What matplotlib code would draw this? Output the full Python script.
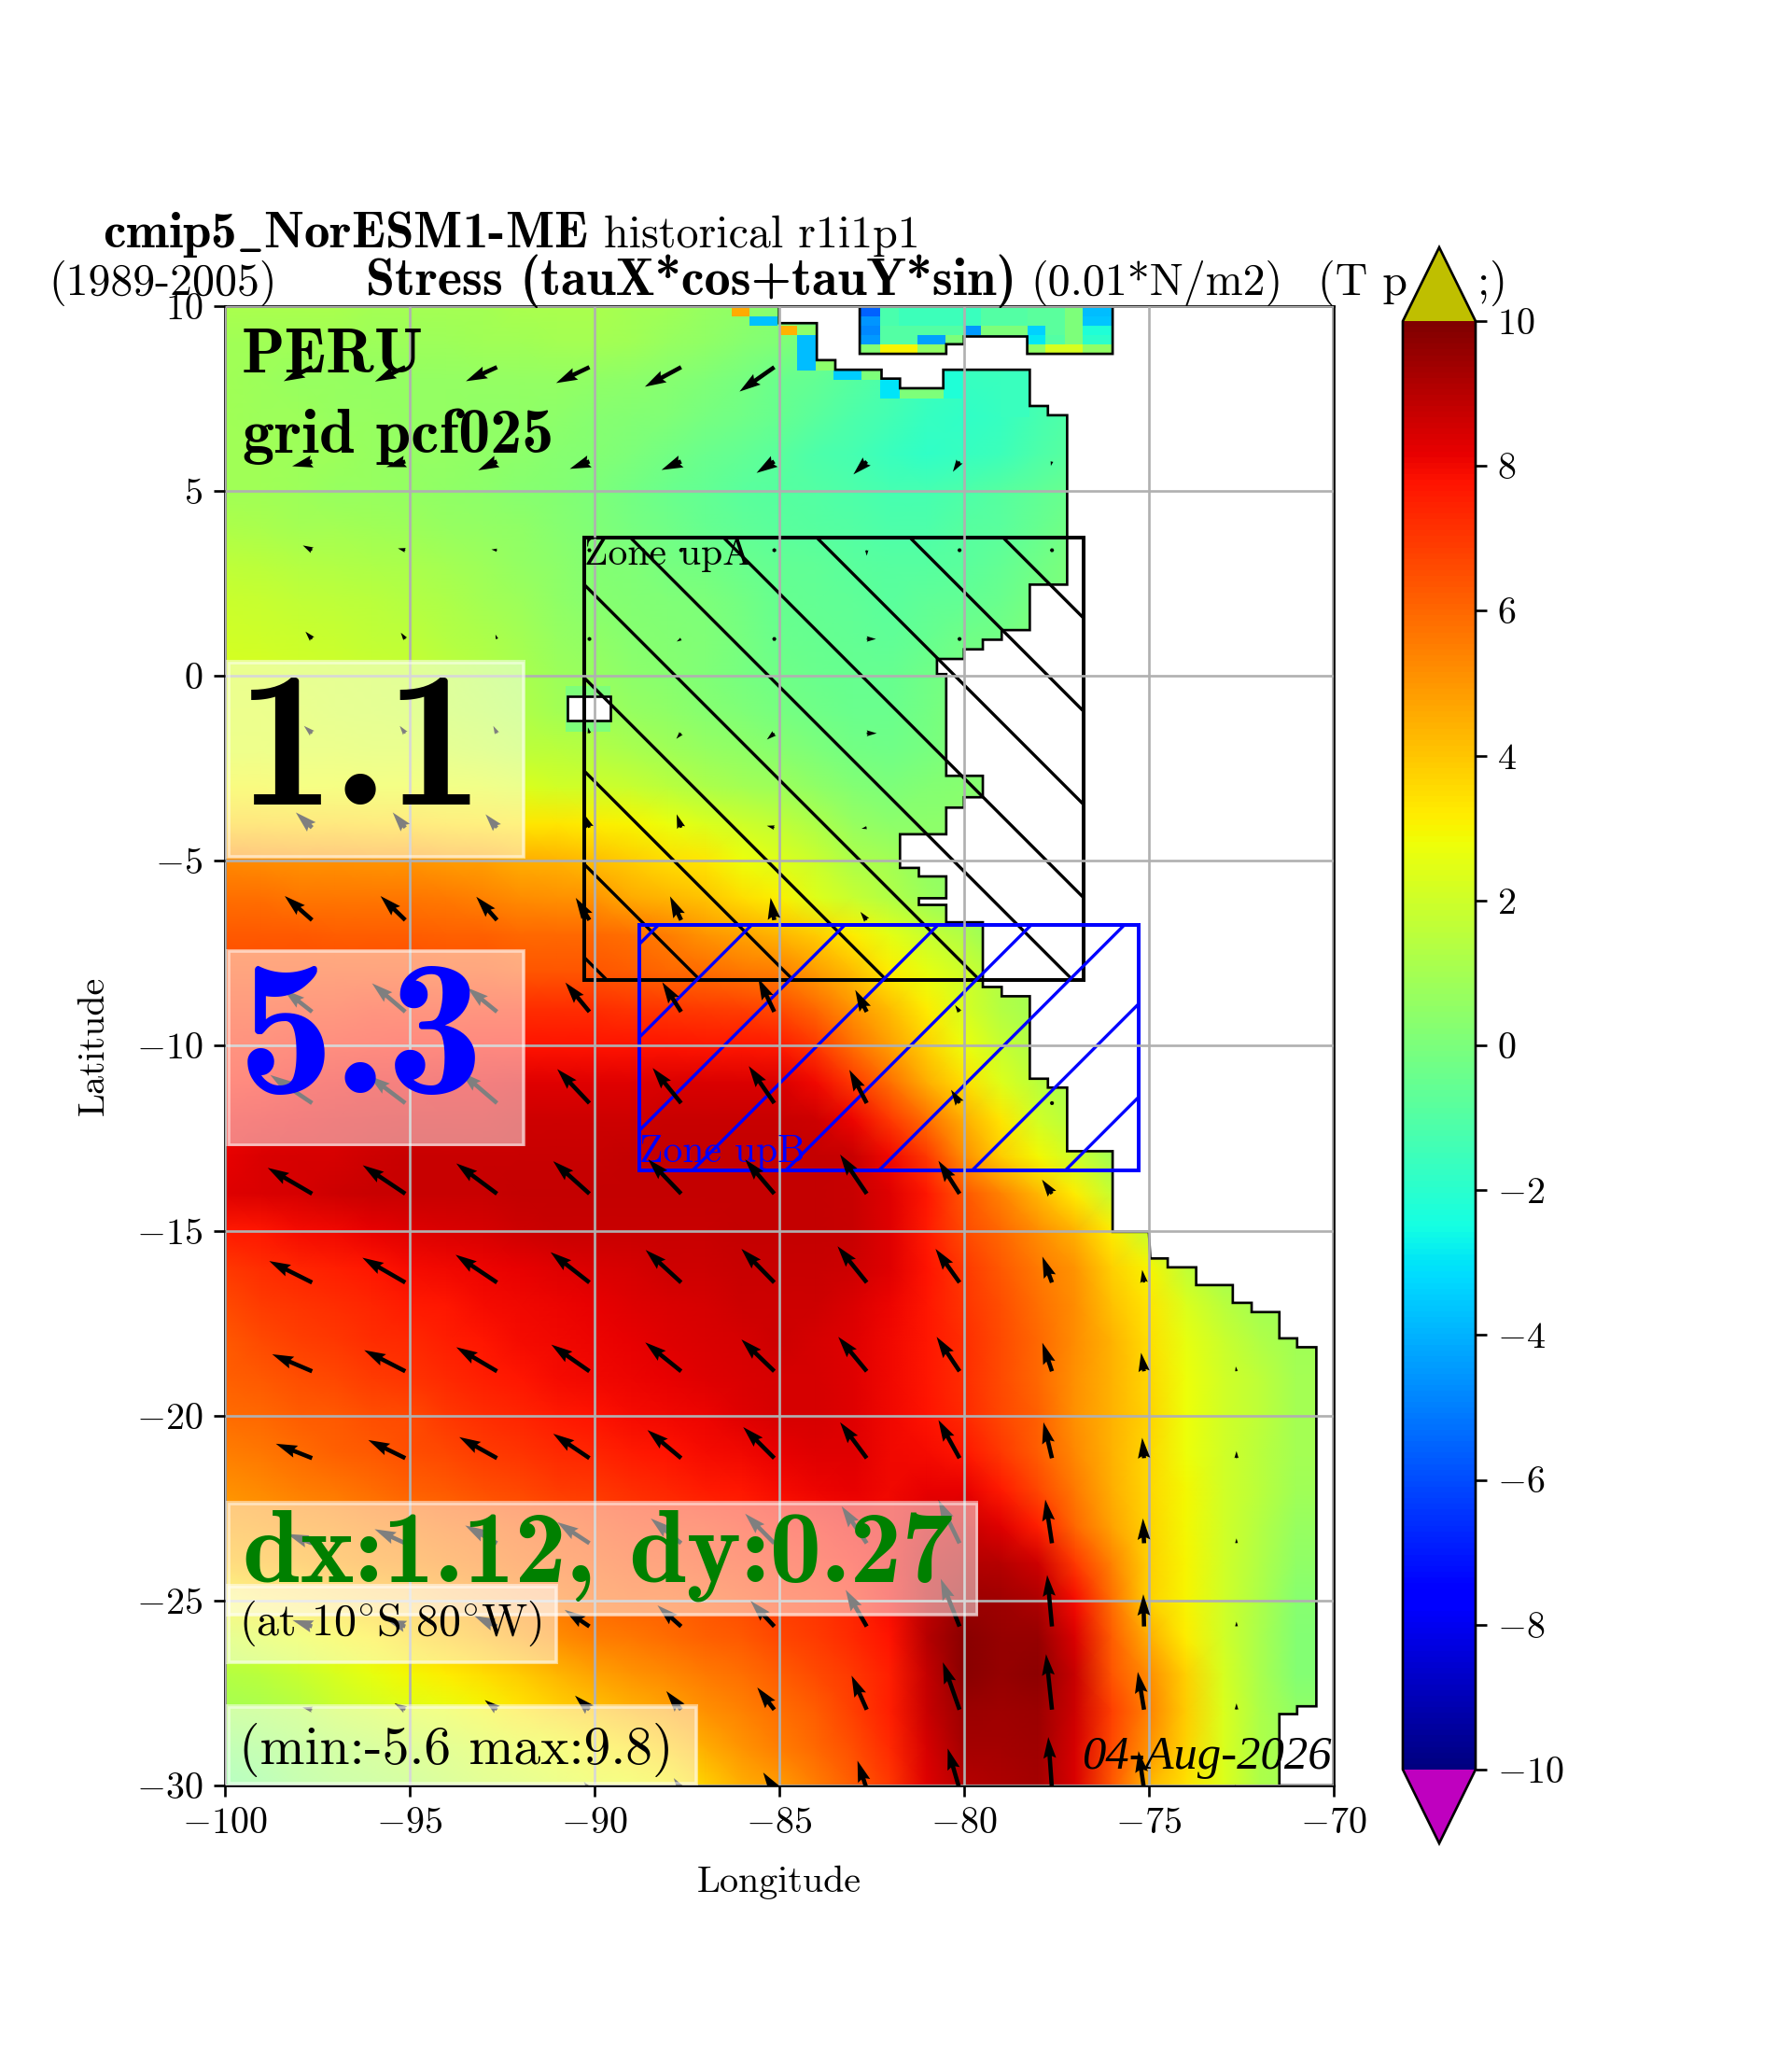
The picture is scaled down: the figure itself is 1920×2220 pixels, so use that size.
import numpy as np
import matplotlib
matplotlib.use("Agg")
import matplotlib.pyplot as plt
from matplotlib.patches import Rectangle
from matplotlib.cm import ScalarMappable
from matplotlib.colors import Normalize

plt.rcParams['font.family'] = ['cmr10']
plt.rcParams['font.size'] = 12
plt.rcParams['mathtext.fontset'] = 'cm'
plt.rcParams['axes.formatter.use_mathtext'] = True
plt.rcParams['axes.unicode_minus'] = True

nan = np.nan

# field, nodes every degree
lons = list(range(-100, -69))
lats = list(range(10, -31, -1))
field = [
    [1.1,1.1,1.1,1.1,1.0,1.0,1.0,1.0,1.1,1.1,1.1,1.0,0.9,0.7,0.5,0.3,0.0,-0.4,-0.8,-1.1,-1.3,-1.2,-1.0,-0.8,-0.5,-0.5,-0.5,-0.5,-0.5,-0.5,-0.5],
    [0.9,0.9,0.9,0.9,0.8,0.8,0.8,0.9,0.9,1.0,1.0,0.9,0.7,0.5,0.3,0.1,-0.2,-0.6,-1.0,-1.3,-1.5,-1.4,-1.2,-1.0,-0.7,-0.7,-0.7,-0.7,-0.7,-0.7,-0.7],
    [0.9,0.8,0.7,0.7,0.6,0.6,0.6,0.6,0.6,0.6,0.5,0.4,0.3,0.1,-0.1,-0.4,-0.6,-0.9,-1.2,-1.5,-1.7,-1.6,-1.4,-1.1,-0.8,-0.6,-0.6,-0.6,-0.6,-0.6,-0.6],
    [0.9,0.8,0.8,0.7,0.7,0.6,0.6,0.5,0.5,0.4,0.3,0.2,0.1,-0.1,-0.3,-0.5,-0.8,-1.1,-1.4,-1.7,-1.8,-1.7,-1.3,-1.0,-0.6,-0.3,-0.3,-0.3,-0.3,-0.3,-0.3],
    [0.9,0.9,0.8,0.8,0.7,0.6,0.6,0.5,0.4,0.3,0.2,0.0,-0.2,-0.4,-0.6,-0.8,-1.1,-1.3,-1.6,-1.8,-1.7,-1.5,-1.1,-0.8,-0.4,0.0,0.0,0.0,0.0,0.0,0.0],
    [0.9,0.9,0.8,0.7,0.7,0.6,0.5,0.4,0.3,0.2,0.0,-0.2,-0.4,-0.6,-0.8,-0.9,-1.0,-1.1,-1.3,-1.3,-1.1,-0.9,-0.7,-0.4,0.0,0.3,0.3,0.3,0.3,0.3,0.3],
    [1.2,1.1,1.0,1.0,0.9,0.8,0.7,0.6,0.5,0.3,0.1,-0.1,-0.3,-0.5,-0.7,-0.8,-0.9,-1.0,-1.1,-1.1,-0.9,-0.8,-0.5,-0.2,0.2,0.3,0.3,0.3,0.3,0.3,0.3],
    [1.6,1.5,1.4,1.3,1.2,1.1,1.0,0.8,0.6,0.4,0.2,0.1,-0.1,-0.2,-0.4,-0.6,-0.7,-0.8,-0.9,-0.9,-0.8,-0.6,-0.3,0.0,0.2,0.3,0.3,0.3,0.3,0.3,0.3],
    [1.9,1.8,1.7,1.6,1.5,1.4,1.2,1.0,0.8,0.5,0.3,0.2,0.1,0.0,-0.2,-0.5,-0.6,-0.7,-0.8,-0.7,-0.6,-0.4,-0.1,0.1,0.2,0.2,0.2,0.2,0.2,0.2,0.2],
    [2.1,2.0,1.9,1.8,1.7,1.6,1.4,1.2,1.0,0.7,0.5,0.3,0.2,0.1,-0.1,-0.4,-0.5,-0.6,-0.7,-0.5,-0.3,-0.2,0.1,0.1,0.1,0.1,0.1,0.1,0.1,0.1,0.1],
    [2.2,2.2,2.1,2.0,1.9,1.8,1.6,1.4,1.1,0.8,0.7,0.4,0.3,0.1,-0.1,-0.3,-0.4,-0.5,-0.5,-0.3,-0.1,0.1,0.1,0.1,0.1,0.1,0.1,0.1,0.1,0.1,0.1],
    [2.3,2.3,2.2,2.1,2.0,1.9,1.7,1.5,1.3,1.0,0.9,0.7,0.5,0.3,0.1,-0.1,-0.3,-0.4,-0.4,-0.2,0.1,0.2,0.2,0.2,0.2,0.2,0.2,0.2,0.2,0.2,0.2],
    [2.4,2.4,2.3,2.3,2.2,2.2,2.0,1.8,1.6,1.5,1.4,1.1,0.9,0.7,0.5,0.3,0.0,-0.2,-0.3,-0.1,0.2,0.2,0.2,0.2,0.2,0.2,0.2,0.2,0.2,0.2,0.2],
    [2.9,2.9,2.8,2.8,2.7,2.7,2.6,2.5,2.3,2.1,2.0,1.8,1.5,1.2,1.0,0.8,0.5,0.2,0.0,0.2,0.3,0.3,0.3,0.3,0.3,0.3,0.3,0.3,0.3,0.3,0.3],
    [3.8,3.8,3.7,3.7,3.6,3.6,3.5,3.4,3.3,3.3,3.2,3.0,2.7,2.3,2.0,1.7,1.2,0.7,0.4,0.4,0.4,0.4,0.4,0.4,0.4,0.4,0.4,0.4,0.4,0.4,0.4],
    [5.3,5.2,5.1,5.1,5.0,5.0,4.9,4.8,4.5,4.4,4.2,3.9,3.5,3.3,2.8,2.4,1.9,1.2,1.0,0.5,0.4,0.4,0.4,0.4,0.4,0.4,0.4,0.4,0.4,0.4,0.4],
    [5.8,5.8,5.7,5.7,5.7,5.7,5.6,5.4,5.2,5.1,5.0,4.6,4.3,4.0,3.5,3.1,2.4,1.8,1.3,0.8,0.4,0.4,0.4,0.4,0.4,0.4,0.4,0.4,0.4,0.4,0.4],
    [6.3,6.3,6.3,6.2,6.2,6.2,6.1,6.1,6.0,6.0,6.0,5.8,5.5,5.0,4.7,4.3,3.9,3.2,2.5,1.8,1.3,0.6,0.4,0.4,0.4,0.4,0.4,0.4,0.4,0.4,0.4],
    [6.6,6.6,6.6,6.6,6.6,6.6,6.5,6.5,6.4,6.4,6.4,6.2,6.0,5.9,5.7,5.5,4.9,4.2,3.2,2.6,2.0,1.3,0.8,0.5,0.5,0.5,0.5,0.5,0.5,0.5,0.5],
    [7.0,7.0,7.1,7.1,7.2,7.2,7.2,7.2,7.2,7.2,7.2,7.1,7.0,6.9,6.8,6.6,6.0,5.0,4.2,3.2,2.2,1.4,1.0,0.7,0.6,0.6,0.6,0.6,0.6,0.6,0.6],
    [7.3,7.4,7.5,7.5,7.6,7.7,7.7,7.8,7.8,7.8,7.8,7.8,7.8,7.7,7.7,7.6,7.0,5.8,4.8,3.8,2.8,1.8,1.2,0.8,0.6,0.6,0.6,0.6,0.6,0.6,0.6],
    [7.6,7.8,7.9,8.0,8.1,8.1,8.2,8.2,8.3,8.3,8.3,8.3,8.4,8.4,8.4,8.4,8.0,7.0,5.8,4.5,3.5,2.4,1.5,1.0,0.7,0.6,0.6,0.6,0.6,0.6,0.6],
    [8.0,8.1,8.2,8.3,8.4,8.5,8.5,8.5,8.6,8.6,8.6,8.6,8.7,8.7,8.7,8.7,8.6,8.1,7.0,5.8,4.5,3.3,2.1,1.4,0.8,0.6,0.6,0.6,0.6,0.6,0.6],
    [8.2,8.4,8.5,8.5,8.6,8.7,8.7,8.7,8.7,8.7,8.7,8.8,8.8,8.8,8.8,8.8,8.8,8.7,8.0,7.0,5.2,3.9,2.9,2.0,1.0,0.4,0.4,0.4,0.4,0.4,0.4],
    [8.3,8.4,8.5,8.6,8.7,8.7,8.7,8.7,8.8,8.8,8.8,8.8,8.8,8.8,8.8,8.8,8.8,8.7,8.3,7.7,6.4,5.4,4.3,3.2,1.8,1.0,0.8,0.8,0.8,0.8,0.8],
    [7.6,7.7,7.9,8.0,8.2,8.3,8.4,8.5,8.6,8.7,8.7,8.7,8.7,8.7,8.8,8.8,8.8,8.7,8.3,7.6,6.6,6.0,5.2,4.4,3.2,1.8,0.8,0.8,0.8,0.8,0.8],
    [7.0,7.2,7.4,7.5,7.7,7.9,8.0,8.1,8.2,8.3,8.4,8.5,8.6,8.6,8.7,8.7,8.7,8.6,8.3,7.8,7.0,6.3,5.6,5.0,3.8,3.0,1.7,1.0,1.0,1.0,1.0],
    [6.6,6.9,7.1,7.2,7.4,7.6,7.7,7.9,8.0,8.1,8.2,8.3,8.4,8.5,8.6,8.6,8.6,8.4,8.1,7.7,7.1,6.5,5.8,5.2,4.1,3.3,2.3,1.5,1.0,0.8,0.8],
    [6.3,6.6,6.8,7.0,7.2,7.3,7.5,7.7,7.9,8.0,8.1,8.2,8.3,8.4,8.5,8.6,8.5,8.3,8.0,7.7,7.2,6.6,6.0,5.2,4.4,3.5,2.6,1.9,1.3,0.9,0.9],
    [6.1,6.3,6.5,6.7,6.9,7.1,7.3,7.5,7.7,7.9,8.0,8.1,8.2,8.3,8.4,8.5,8.5,8.3,8.0,7.7,7.2,6.6,6.0,5.1,4.4,3.6,2.8,2.1,1.6,1.0,1.0],
    [5.9,6.0,6.2,6.3,6.5,6.6,7.0,7.2,7.4,7.6,7.8,7.9,8.0,8.1,8.3,8.5,8.5,8.3,8.0,7.8,7.3,6.7,6.1,5.1,4.4,3.7,2.8,2.1,1.6,1.0,1.0],
    [5.5,5.7,5.9,6.1,6.3,6.5,6.7,6.9,7.1,7.3,7.4,7.6,7.8,7.9,8.0,8.2,8.3,8.3,8.0,7.9,7.7,7.0,6.2,5.3,4.4,3.6,2.8,2.1,1.5,1.0,1.0],
    [5.1,5.3,5.5,5.7,5.9,6.1,6.3,6.5,6.7,6.9,7.0,7.2,7.4,7.6,7.7,7.9,8.1,8.2,8.0,8.2,8.2,7.6,6.7,5.6,4.5,3.6,2.9,2.1,1.5,0.9,0.9],
    [4.7,4.9,5.0,5.2,5.4,5.6,5.8,6.0,6.2,6.4,6.6,6.8,7.0,7.1,7.3,7.5,7.7,7.9,8.0,8.5,8.7,8.3,7.5,6.0,4.7,3.7,2.9,2.1,1.4,0.7,0.7],
    [4.2,4.4,4.6,4.8,5.0,5.2,5.4,5.7,5.9,6.1,6.3,6.5,6.6,6.8,7.0,7.2,7.4,7.7,8.0,8.8,9.1,9.0,8.6,7.0,5.4,3.8,3.0,2.1,1.3,0.5,0.5],
    [3.0,3.4,3.6,3.9,4.2,4.4,4.8,5.1,5.4,5.7,6.0,6.1,6.2,6.4,6.6,6.9,7.1,7.4,7.9,8.9,9.5,9.4,9.2,7.9,5.8,3.8,3.0,2.1,1.2,0.3,0.3],
    [2.0,2.3,2.6,2.9,3.2,3.6,4.0,4.4,4.8,5.2,5.5,5.7,5.9,6.1,6.3,6.7,6.9,7.3,7.8,9.0,9.8,9.6,9.6,8.4,6.2,4.5,3.2,2.1,1.1,0.2,0.2],
    [1.4,1.5,1.8,2.2,2.6,2.9,3.2,3.5,3.9,4.3,4.7,5.0,5.3,5.6,5.8,6.2,6.6,7.0,7.5,8.8,9.8,9.6,9.7,8.7,6.4,5.2,3.8,2.2,1.1,0.2,0.2],
    [1.0,1.1,1.4,1.8,2.1,2.4,2.6,2.9,3.3,3.7,4.0,4.4,4.7,5.1,5.4,5.8,6.2,6.8,7.5,8.7,9.5,9.4,9.5,8.6,6.8,5.4,3.9,2.3,1.2,0.5,0.5],
    [0.3,0.5,0.8,1.1,1.4,1.7,1.9,2.2,2.5,2.8,3.1,3.4,3.9,4.5,5.0,5.5,6.0,6.5,7.3,8.5,9.3,9.3,9.4,8.5,6.6,5.0,3.7,2.3,1.2,0.9,0.9],
    [-0.3,0.0,0.5,0.8,1.0,1.2,1.5,1.8,2.0,2.3,2.6,2.8,3.0,3.8,4.5,4.9,5.5,6.2,7.0,8.3,9.0,9.2,9.3,8.4,6.3,4.3,3.4,2.4,1.2,0.9,0.9],
]

# small Caribbean strip at the top, real cell edges
car_lon = [-82.82,-82.28,-81.77,-81.27,-80.51,-80.0,-79.53,-79.02,-78.29,-77.79,-77.28,-76.78,-75.98]
car_lat = [10.0,9.72,9.46,9.23,8.97,8.71]
car_val = [
    [-5.6,-1.2,-1.5,-1.5,-1.5,-1.6,-1.0,-1.0,-0.8,-0.8,0.0,-3.8],
    [-4.6,-1.2,-1.5,-1.5,-1.5,-1.6,-1.0,-1.0,-0.8,-0.8,0.0,-3.6],
    [-4.8,-1.0,-1.0,-1.0,-1.0,-4.5,0.0,0.0,-3.4,-0.8,0.0,-2.2],
    [-4.5,-1.0,-1.0,-4.3,0.0,nan,nan,nan,-2.9,-1.0,0.0,-1.9],
    [0.2,3.0,3.0,0.5,nan,nan,nan,nan,0.5,2.2,2.2,0.5],
]

# odd coastal cells on the Pacific side
cell_lon = [-86.28,-85.79,-85.0,-84.52,-84.52,-84.0,-83.54,-82.78,-82.27,-81.74,-80.56,-79.02,-90.77]
cell_wid = [0.49,0.74,0.48,0.5,0.5,0.5,0.76,0.55,0.52,1.18,0.52,0.78,1.22]
cell_lat = [9.72,9.48,9.23,9.23,8.25,8.25,8.0,8.0,7.5,7.5,7.5,7.0,-1.5]
cell_hei = [0.28,0.24,0.25,0.25,0.98,0.29,0.25,0.25,0.5,0.28,0.78,1.28,1.22]
cell_val = [4.6,-3.7,4.4,0.4,-3.8,0.4,-3.5,0.0,-3.0,0.0,-2.2,-1.6,0.0]

# coast outline
coast_lon = [-85,-85,-83.98,-83.98,-83.48,-83.48,-82.23,-82.23,-81.73,-81.73,-80.56,-80.56,-78.22,-78.22,-77.73,-77.73,-77.21,
             -77.21,-78.22,-78.22,-78.98,-78.98,-79.49,-79.49,-80,-80,-80.73,-80.73,-80.48,-80.48,-79.49,-79.49,-80,-80,-80.48,-80.48,
             -81.73,-81.73,-81.22,-81.22,-80.48,-80.48,-81.22,-81.22,-80.48,-80.48,-79.49,-79.49,-78.98,-78.98,-78.22,-78.22,-77.73,
             -77.73,-77.21,-77.21,-75.98,-75.98,-75,-74.96,-74.49,-74.49,-73.72,-73.72,-72.73,-72.73,-72.22,-72.22,-71.47,-71.47,
             -70.99,-70.99,-70.47,-70.47,-70.99,-70.99,-71.47,-71.47,-70,-70,-75.98,-75.98,-78.29,-78.29,-80,-80,-80.48,-80.48,-82.82,-82.82]
coast_lat = [10,9.54,9.54,8.54,8.54,8.28,8.28,8.04,8.04,7.78,7.78,8.28,8.28,7.3,7.3,7.05,7.05,
             2.47,2.47,1.24,1.24,0.98,0.98,0.72,0.72,0.46,0.46,0.05,0.05,-2.7,-2.7,-3.28,-3.28,-3.56,-3.56,-4.28,
             -4.28,-5.19,-5.19,-5.42,-5.42,-6.01,-6.01,-6.19,-6.19,-6.66,-6.66,-8.41,-8.41,-8.66,-8.66,-10.89,-10.89,
             -11.13,-11.13,-12.85,-12.85,-15.03,-15.03,-15.75,-15.75,-15.99,-15.99,-16.47,-16.47,-16.95,-16.95,-17.2,-17.2,-17.91,
             -17.91,-18.15,-18.15,-27.86,-27.86,-28.07,-28.07,-30,-30,10,10,8.71,8.71,9.18,9.18,8.97,8.97,8.71,8.71,10]

# wind stress arrows, tail positions and vectors
arrow_lon = [-97.63,-95.11,-92.63,-90.13,-87.65,-85.13,-82.63,-80.12,-77.62,-75.13,-72.63]
arrow_lat = [8.35,5.8,3.4,1.0,-1.55,-4.1,-6.6,-9.08,-11.55,-14.0,-16.4,-18.8,-21.15,-23.45,-25.7,-27.95,-30.1]
arrow_u = [
    [-0.77,-0.82,-0.84,-0.9,-0.98,-0.94,nan,nan,nan,nan,nan],
    [-0.54,-0.51,-0.51,-0.53,-0.53,-0.48,-0.36,-0.18,-0.03,nan,nan],
    [-0.25,-0.2,-0.15,0.0,-0.02,0.0,0.0,0.0,0.0,nan,nan],
    [-0.18,-0.12,-0.04,-0.02,-0.12,-0.05,0.25,0.0,nan,nan,nan],
    [-0.22,-0.15,-0.1,-0.04,-0.13,-0.2,0.27,nan,nan,nan,nan],
    [-0.44,-0.34,-0.31,-0.14,-0.12,-0.2,-0.14,nan,nan,nan,nan],
    [-0.74,-0.67,-0.56,-0.37,-0.3,-0.1,-0.17,nan,nan,nan,nan],
    [-0.77,-0.9,-0.8,-0.65,-0.51,-0.43,-0.31,-0.12,nan,nan,nan],
    [-1.13,-0.98,-0.98,-0.87,-0.77,-0.69,-0.47,-0.23,0.0,nan,nan],
    [-1.2,-1.15,-1.1,-0.98,-0.89,-0.79,-0.72,-0.57,-0.27,nan,nan],
    [-1.16,-1.16,-1.12,-1.05,-0.96,-0.89,-0.79,-0.65,-0.26,-0.05,nan],
    [-1.08,-1.11,-1.1,-1.03,-0.97,-0.89,-0.77,-0.62,-0.26,-0.08,-0.02],
    [-0.98,-1.0,-1.02,-0.98,-0.91,-0.84,-0.72,-0.57,-0.23,-0.05,0.0],
    [-0.67,-0.83,-0.86,-0.87,-0.82,-0.79,-0.68,-0.57,-0.18,-0.03,0.0],
    [-0.53,-0.5,-0.62,-0.67,-0.64,-0.64,-0.57,-0.51,-0.13,-0.02,0.0],
    [-0.26,-0.29,-0.33,-0.39,-0.4,-0.46,-0.41,-0.45,-0.16,-0.17,0.0],
    [-0.05,-0.1,-0.08,-0.15,-0.2,-0.3,-0.25,-0.32,-0.1,-0.15,-0.03],
]
arrow_v = [
    [-0.38,-0.39,-0.38,-0.43,-0.53,-0.66,nan,nan,nan,nan,nan],
    [-0.13,-0.15,-0.24,-0.2,-0.23,-0.31,-0.35,-0.28,-0.12,nan,nan],
    [0.13,0.05,0.02,0.0,-0.02,-0.1,-0.15,0.0,0.0,nan,nan],
    [0.2,0.17,0.12,0.1,-0.07,-0.08,0.0,0.0,nan,nan,nan],
    [0.2,0.2,0.2,0.16,-0.15,-0.17,0.0,nan,nan,nan,nan],
    [0.41,0.41,0.36,0.36,0.36,0.05,-0.03,nan,nan,nan,nan],
    [0.65,0.65,0.63,0.6,0.64,0.6,0.22,nan,nan,nan,nan],
    [0.6,0.77,0.65,0.79,0.8,0.9,0.59,0.18,nan,nan,nan],
    [0.76,0.74,0.84,0.92,0.95,1.0,0.9,0.36,0.0,nan,nan],
    [0.7,0.77,0.82,0.88,0.93,0.93,1.06,0.89,0.38,nan,nan],
    [0.58,0.67,0.75,0.82,0.88,0.91,0.98,0.91,0.7,0.34,nan],
    [0.46,0.57,0.65,0.72,0.78,0.86,0.93,0.93,0.77,0.5,0.13],
    [0.39,0.49,0.57,0.66,0.76,0.84,0.97,1.03,0.97,0.55,0.19],
    [0.25,0.38,0.48,0.57,0.67,0.8,1.0,1.17,1.18,0.67,0.13],
    [0.17,0.17,0.29,0.45,0.57,0.69,0.99,1.29,1.39,0.87,0.13],
    [0.06,0.17,0.26,0.38,0.5,0.6,0.92,1.28,1.5,1.02,0.17],
    [0.05,0.1,0.1,0.2,0.3,0.45,0.77,1.1,1.41,1.03,0.12],
]

vmin, vmax = -10, 10
cb_ticks = list(range(-10, 11, 2))
x_ticks = [-100, -95, -90, -85, -80, -75, -70]
y_ticks = [-30, -25, -20, -15, -10, -5, 0, 5, 10]

cmap = plt.get_cmap('jet').copy()
cmap.set_over('y')
cmap.set_under('m')
norm = Normalize(vmin, vmax)

fig = plt.figure(figsize=(8, 9.25), dpi=240)
ax = fig.add_axes([240.5/1920, 1-1913/2220, 1188.5/1920, 1585/2220])

X, Y = np.meshgrid(lons, lats)
ax.pcolormesh(X, Y, np.array(field), cmap=cmap, norm=norm, shading='gouraud', zorder=1)
ax.pcolormesh(car_lon, car_lat, np.ma.masked_invalid(car_val), cmap=cmap, norm=norm, shading='flat', zorder=1.1)
ax.bar(cell_lon, cell_hei, cell_wid, cell_lat, align='edge', color=cmap(norm(cell_val)), zorder=1.1)

# land on top of the field
ax.fill(coast_lon, coast_lat, facecolor='white', edgecolor='k', linewidth=0.8, zorder=1.3)
ax.add_patch(Rectangle((-90.73, -1.2), 1.18, 0.66, facecolor='white', edgecolor='k', linewidth=0.8, zorder=1.3))

# the two zones, hatch drawn by hand because it is wider than agg allows
zone_a = Rectangle((-90.27, -8.23), 13.5, 11.97, fill=False, edgecolor='k', linewidth=1.2, zorder=2)
ax.add_patch(zone_a)
for c in np.arange(-97.88, -75.0, 2.52):
    line, = ax.plot([-91, -76], [c + 91, c + 76], color='k', linewidth=1.0, zorder=2)
    line.set_clip_path(zone_a)
zone_b = Rectangle((-88.78, -13.38), 13.5, 6.65, fill=False, edgecolor='b', linewidth=1.2, zorder=2)
ax.add_patch(zone_b)
for c in np.arange(63.89, 82.0, 2.52):
    line, = ax.plot([-89, -75], [c - 89, c - 75], color='b', linewidth=1.0, zorder=2)
    line.set_clip_path(zone_b)
ax.text(-90.27, 3.0, 'Zone upA', color='k', fontsize=12.5, zorder=3)
ax.text(-88.78, -13.15, 'Zone upB', color='b', fontsize=12.5, zorder=3)

ax.set_axisbelow(False)
ax.grid(True, color='#b0b0b0', linewidth=0.8)

AX, AY = np.meshgrid(arrow_lon, arrow_lat)
ax.quiver(AX, AY, np.ma.masked_invalid(arrow_u), np.ma.masked_invalid(arrow_v), angles='xy', scale_units='xy', scale=1,
          units='x', width=0.115, color='k', zorder=3)

def box(x0, x1, y0, y1):
    ax.add_patch(Rectangle((x0, y0), x1 - x0, y1 - y0, facecolor='white', edgecolor='none', alpha=0.5, zorder=4))
    ax.add_patch(Rectangle((x0 + 0.07, y0 + 0.07), x1 - x0 - 0.14, y1 - y0 - 0.14, fill=False, edgecolor='white',
                           linewidth=0.8, alpha=0.5, zorder=4))

box(-99.95, -91.86, -4.93, 0.43)
box(-99.95, -91.86, -12.72, -7.38)
box(-99.95, -79.61, -25.43, -22.31)
box(-99.95, -90.98, -26.72, -24.55)
box(-99.95, -87.2, -30.0, -27.8)

ax.text(-99.54, 8.2, 'PERU', family='cmb10', fontsize=20.4, zorder=5)
ax.text(-99.5, 6.03, 'grid pcf025', family='cmb10', fontsize=20.4, zorder=5)
ax.text(-99.65, -3.48, '1.1', family='cmb10', fontsize=62, color='k', zorder=5)
ax.text(-99.65, -11.27, '5.3', family='cmb10', fontsize=62, color='b', zorder=5)
ax.text(-99.5, -24.49, 'dx:1.12, dy:0.27', family='cmb10', fontsize=33.2, color='g', zorder=5)
ax.text(-99.62, -25.93, r'(at 10$^{\circ}$S 80$^{\circ}$W)', fontsize=14.4, zorder=5)
ax.text(-99.62, -29.42, '(min:-5.6 max:9.8)', fontsize=17.3, zorder=5)
ax.text(-70.06, -29.54, '04-Aug-2026', family='Liberation Serif', style='italic', fontsize=15.2, ha='right', zorder=5)

ax.set_xlim(-100, -70)
ax.set_ylim(-30, 10)
ax.set_xticks(x_ticks)
ax.set_yticks(y_ticks)
ax.set_xlabel('Longitude', labelpad=8)
ax.set_ylabel('Latitude', labelpad=8)

# title pieces, colorbar triangle sits above them
title_y1 = 1 - 265/2220
title_y2 = 1 - 316/2220
ax.text(110/1920, title_y1, r'cmip5$\_$NorESM1-ME', family='cmb10', transform=fig.transFigure, fontsize=16.5, clip_on=False)
ax.text(647/1920, title_y1, 'historical r1i1p1', transform=fig.transFigure, fontsize=14.4, clip_on=False)
ax.text(52/1920, title_y2, '(1989-2005)', transform=fig.transFigure, fontsize=14.4, clip_on=False)
ax.text(392/1920, title_y2, 'Stress (tauX*cos+tauY*sin)', family='cmb10', transform=fig.transFigure, fontsize=16.8, clip_on=False)
ax.text(1104/1920, title_y2, '(0.01*N/m2)', transform=fig.transFigure, fontsize=14.4, clip_on=False)
ax.text(1412/1920, title_y2, '(T p', transform=fig.transFigure, fontsize=14.4, clip_on=False)
ax.text(1583/1920, title_y2, ';)', transform=fig.transFigure, fontsize=14.4, clip_on=False)

cax = fig.add_axes([1503/1920, 1-1975/2220, 78/1920, 1710/2220])
cax.set_zorder(5)
cb = fig.colorbar(ScalarMappable(norm=norm, cmap=cmap), cax=cax, extend='both', extendfrac=0.051)
cb.set_ticks(cb_ticks)

fig.savefig('out.png', dpi=240)
